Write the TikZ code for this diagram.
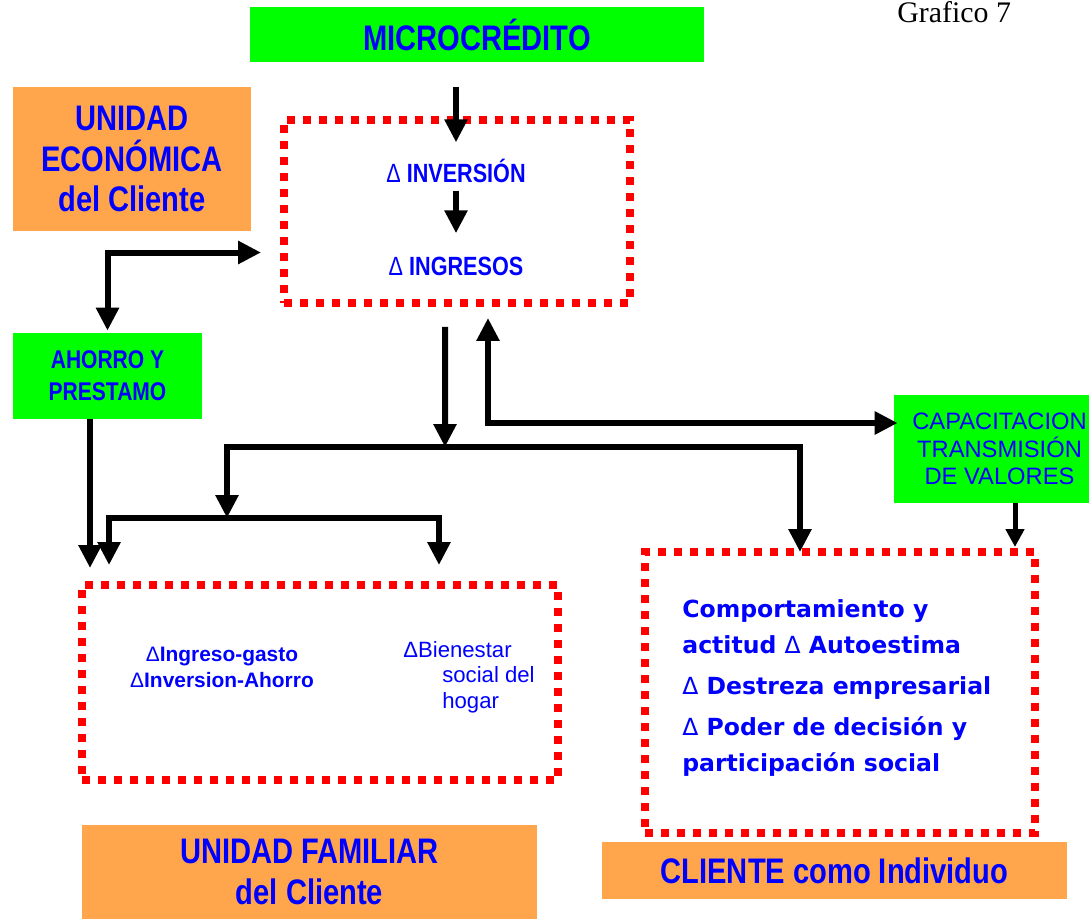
\documentclass[tikz,border=0pt]{standalone}
\usepackage{fontspec}
\setmainfont{Liberation Sans}
\newfontfamily\narrowfont[FakeStretch=0.82]{Liberation Sans}
\newfontfamily\verdfont{DejaVu Sans}
\newfontfamily\seriffont{Liberation Serif}
\usetikzlibrary{arrows.meta,positioning,calc}
\definecolor{boxgreen}{RGB}{0,255,0}
\definecolor{boxorange}{RGB}{255,166,77}
\definecolor{txtblue}{RGB}{0,0,255}
\definecolor{dotred}{RGB}{255,0,0}
\newcommand{\incr}{{\mdseries Δ}}

\begin{document}
\begin{tikzpicture}[
    x=0.02cm, y=-0.02cm,
    >={Triangle[width=0.44cm,length=0.46cm]},
    gbox/.style={rectangle, fill=boxgreen, inner sep=0pt, align=center, text=txtblue},
    obox/.style={rectangle, fill=boxorange, inner sep=0pt, align=center, text=txtblue, font=\narrowfont\bfseries\fontsize{20.2}{23.2}\selectfont},
    dotbox/.style={rectangle, draw=dotred, line width=0.15cm, dash pattern=on 0.16cm off 0.16cm, inner sep=0pt, outer sep=0pt},
    txt/.style={inner sep=0pt, text=txtblue},
    arr/.style={line width=0.12cm}
]
    \useasboundingbox (0,0) rectangle (1089,919);

    \node[gbox, minimum width=9.09cm, minimum height=1.1cm, font=\narrowfont\bfseries\fontsize{20.2}{23.2}\selectfont] (micro) at (477,34.5) {MICROCRÉDITO};
    \node[anchor=base west, inner sep=0pt, font=\seriffont\fontsize{17}{20}\selectfont] (graf) at (897,23) {Grafico 7};
    \node[obox, minimum width=4.75cm, minimum height=2.88cm] (uec) at (132,159) {UNIDAD\\ECONÓMICA\\del Cliente};

    % economic unit
    \node[dotbox, minimum width=6.92cm, minimum height=3.66cm] (box1) at (457,211.5) {};
    \node[txt, anchor=base, font=\narrowfont\bfseries\fontsize{15}{18}\selectfont] (inv) at (456,182) {\incr\ INVERSIÓN};
    \node[txt, anchor=base, font=\narrowfont\bfseries\fontsize{15}{18}\selectfont] (ing) at (456,275) {\incr\ INGRESOS};

    \node[gbox, minimum width=3.78cm, minimum height=1.72cm, font=\narrowfont\bfseries\fontsize{14.6}{18.1}\selectfont] (ahorro) at (107.5,376) {AHORRO Y\\PRESTAMO};
    \node[gbox, minimum width=3.9cm, minimum height=2.16cm] (capac) at (991.5,449) {};
    \node[txt, align=center, font=\fontsize{13.5}{15.6}\selectfont] (capactxt) at (999.5,449) {CAPACITACION\\TRANSMISIÓN\\DE VALORES};

    % family unit
    \node[dotbox, minimum width=9.52cm, minimum height=3.9cm] (box2) at (320,682.5) {};
    \node[txt, align=center, font=\bfseries\fontsize{11.9}{14.7}\selectfont] (ingasto) at (222,667.5) {\incr Ingreso-gasto\\\incr Inversion-Ahorro};
    \node[txt, anchor=west, align=left, font=\fontsize{12.6}{14.5}\selectfont] (bienestar) at (403,677) {ΔBienestar\\\hspace*{0.78cm}social del\\\hspace*{0.78cm}hogar};

    % individual
    \node[dotbox, minimum width=7.8cm, minimum height=5.62cm] (box3) at (840,692.5) {};
    \node[txt, anchor=north west, align=left, font=\verdfont\bfseries\fontsize{13.4}{20.4}\selectfont] (actitud) at (682,599) {Comportamiento y\\actitud \incr\ Autoestima\\[3.4pt]\incr\ Destreza empresarial\\[2.8pt]\incr\ Poder de decisión y\\participación social};

    \node[obox, minimum width=9.1cm, minimum height=1.88cm] (ufam) at (309.5,872) {UNIDAD FAMILIAR\\del Cliente};
    \node[obox, minimum width=9.3cm, minimum height=1.14cm] (cli) at (834.5,870.5) {CLIENTE como Individuo};

    \coordinate (split1) at (445,447);
    \coordinate (split2) at (227,518);

    \draw[arr, ->] ([xshift=-0.42cm,yshift=-0.5cm]micro.south) -- ++(0,55);
    \draw[arr, ->, shorten <=0.16cm, shorten >=0.46cm] (inv.south) -- (ing.north);
    \draw[arr, <->] ([yshift=0.04cm]ahorro.north) |- ($(box1.west)+(-23,41)$);
    \draw[arr, ->] ([xshift=-0.35cm]ahorro.south) -- ([xshift=-0.35cm,yshift=0.34cm]ahorro.south |- box2.north);
    \draw[arr, ->] ([xshift=-0.24cm,yshift=-0.48cm]box1.south) -- (split1);
    \draw[arr, ->] (split1) -| ([xshift=-0.8cm]box3.north);
    \draw[arr, ->] (split1) -| (split2);
    \draw[arr, ->] (split2) -| ([xshift=-4.22cm,yshift=0.4cm]box2.north);
    \draw[arr, ->] (split2) -| ([xshift=2.38cm,yshift=0.4cm]box2.north);
    \draw[arr, <->] ([xshift=0.62cm,yshift=-0.3cm]box1.south) |- ([xshift=0.08cm,yshift=0.52cm]capac.west);
    \draw[line width=0.1cm, -{Triangle[width=0.36cm,length=0.36cm]}] ([xshift=0.47cm]capac.south) -- ([xshift=0.47cm,yshift=0.1cm]capac.south |- box3.north);
\end{tikzpicture}
\end{document}
